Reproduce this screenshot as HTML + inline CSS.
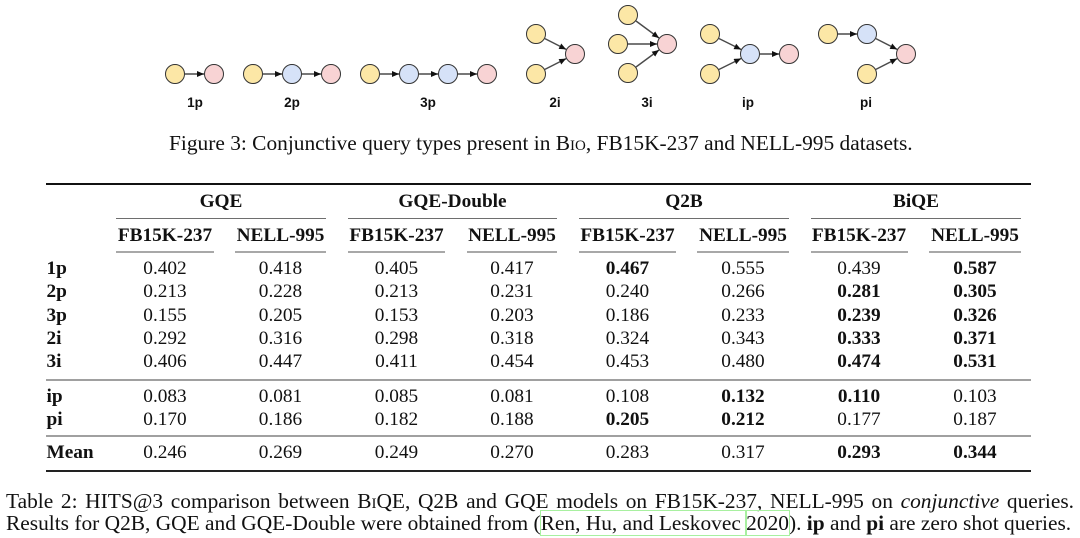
<!DOCTYPE html>
<html><head><meta charset="utf-8">
<style>
html,body{margin:0;padding:0;background:#fff;}
body{width:1080px;height:538px;position:relative;overflow:hidden;font-family:"Liberation Serif","Times New Roman",serif;color:#111;}
.row{position:absolute;left:0;width:1080px;height:20px;font-size:19.3px;line-height:19.3px;white-space:nowrap;}
.row span{position:absolute;top:0;}
.l{left:46.5px;font-weight:bold;}
.c{width:120px;text-align:center;}
.b{font-weight:bold;}
.c1{left:105px}.c2{left:220.5px}.c3{left:336.5px}.c4{left:452px}
.c5{left:567.5px}.c6{left:683px}.c7{left:799px}.c8{left:915px}
.g{width:200px;text-align:center;font-weight:bold;}
.rule{position:absolute;}
.cm{top:217.5px;height:1.2px;background:#6e6e6e;}
.sr{top:251px;height:2px;background:#a8a8a8;}
.cap{position:absolute;font-size:21.4px;line-height:22px;white-space:nowrap;color:#111;}
.sc{font-variant:small-caps;}
.lk{outline:1px solid #a8f0a0;}
</style></head><body>

<svg width="1080" height="120" style="position:absolute;left:0;top:0" xmlns="http://www.w3.org/2000/svg">
<defs>
<marker id="m" markerWidth="8" markerHeight="8" refX="7" refY="3" orient="auto" markerUnits="userSpaceOnUse"><path d="M0,0 L7,3 L0,6 z" fill="#111"/></marker>
</defs>
<g stroke="#4a4a4a" stroke-width="1.4" marker-end="url(#m)">
<line x1="185" y1="74" x2="204" y2="74"/>
<line x1="263" y1="74" x2="282" y2="74"/>
<line x1="302" y1="74" x2="321" y2="74"/>
<line x1="380" y1="74" x2="399" y2="74"/>
<line x1="419" y1="74" x2="438" y2="74"/>
<line x1="458" y1="74" x2="477" y2="74"/>
<line x1="544.9" y1="38.6" x2="566.1" y2="49.4"/>
<line x1="544.9" y1="69.4" x2="566.1" y2="58.6"/>
<line x1="636" y1="21" x2="659" y2="38"/>
<line x1="628" y1="44" x2="657" y2="44"/>
<line x1="636" y1="67" x2="659" y2="50"/>
<line x1="718.9" y1="38.5" x2="741.1" y2="49.5"/>
<line x1="718.9" y1="69.5" x2="741.1" y2="58.5"/>
<line x1="760" y1="54" x2="779" y2="54"/>
<line x1="838" y1="34" x2="857" y2="34"/>
<line x1="875.9" y1="38.6" x2="897.1" y2="49.4"/>
<line x1="875.9" y1="69.4" x2="897.1" y2="58.6"/>
</g>
<g stroke="#333" stroke-width="1">
<g fill="#fce7a6">
<circle cx="175" cy="74" r="9.5"/>
<circle cx="253" cy="74" r="9.5"/>
<circle cx="370" cy="74" r="9.5"/>
<circle cx="536" cy="34" r="9.5"/>
<circle cx="536" cy="74" r="9.5"/>
<circle cx="628" cy="15" r="9.5"/>
<circle cx="618" cy="44" r="9.5"/>
<circle cx="628" cy="73" r="9.5"/>
<circle cx="710" cy="34" r="9.5"/>
<circle cx="710" cy="74" r="9.5"/>
<circle cx="828" cy="34" r="9.5"/>
<circle cx="867" cy="74" r="9.5"/>
</g>
<g fill="#d6e2f8">
<circle cx="292" cy="74" r="9.5"/>
<circle cx="409" cy="74" r="9.5"/>
<circle cx="448" cy="74" r="9.5"/>
<circle cx="750" cy="54" r="9.5"/>
<circle cx="867" cy="34" r="9.5"/>
</g>
<g fill="#f8d3d4">
<circle cx="214" cy="74" r="9.5"/>
<circle cx="331" cy="74" r="9.5"/>
<circle cx="487" cy="74" r="9.5"/>
<circle cx="575" cy="54" r="9.5"/>
<circle cx="667" cy="44" r="9.5"/>
<circle cx="789" cy="54" r="9.5"/>
<circle cx="906" cy="54" r="9.5"/>
</g>
</g>
<g font-family="Liberation Sans, Arial, sans-serif" font-weight="bold" font-size="13.5" fill="#111" text-anchor="middle">
<text x="195" y="107">1p</text>
<text x="292" y="107">2p</text>
<text x="428" y="107">3p</text>
<text x="555" y="107">2i</text>
<text x="647" y="107">3i</text>
<text x="748" y="107">ip</text>
<text x="866" y="107">pi</text>
</g>
</svg>

<div class="cap" style="left:169px;top:131.8px;">Figure 3: Conjunctive query types present in <span class="sc">Bio</span>, FB15K-237 and NELL-995 datasets.</div>

<div class="rule" style="left:46px;top:183px;width:985px;height:2px;background:#111;"></div>
<div class="rule cm" style="left:116px;width:210px;"></div>
<div class="rule cm" style="left:348px;width:209px;"></div>
<div class="rule cm" style="left:579px;width:210px;"></div>
<div class="rule cm" style="left:811px;width:210px;"></div>
<div class="rule sr" style="left:116px;width:98px;"></div>
<div class="rule sr" style="left:235px;width:91px;"></div>
<div class="rule sr" style="left:348px;width:97px;"></div>
<div class="rule sr" style="left:467px;width:90px;"></div>
<div class="rule sr" style="left:579px;width:97px;"></div>
<div class="rule sr" style="left:697px;width:92px;"></div>
<div class="rule sr" style="left:811px;width:97px;"></div>
<div class="rule sr" style="left:929px;width:92px;"></div>
<div class="rule" style="left:46px;top:378.5px;width:985px;height:2px;background:#a0a0a0;"></div>
<div class="rule" style="left:46px;top:434.5px;width:985px;height:2px;background:#a0a0a0;"></div>
<div class="rule" style="left:46px;top:470px;width:985px;height:2px;background:#222;"></div>

<div class="row" style="top:192.3px">
<span class="g" style="left:121px">GQE</span>
<span class="g" style="left:352.5px">GQE-Double</span>
<span class="g" style="left:584px">Q2B</span>
<span class="g" style="left:816px">BiQE</span>
</div>
<div class="row b" style="top:226.3px">
<span class="c c1">FB15K-237</span><span class="c c2">NELL-995</span>
<span class="c c3">FB15K-237</span><span class="c c4">NELL-995</span>
<span class="c c5">FB15K-237</span><span class="c c6">NELL-995</span>
<span class="c c7">FB15K-237</span><span class="c c8">NELL-995</span>
</div>

<div class="row" style="top:259.3px"><span class="l">1p</span>
<span class="c c1">0.402</span><span class="c c2">0.418</span><span class="c c3">0.405</span><span class="c c4">0.417</span>
<span class="c c5 b">0.467</span><span class="c c6">0.555</span><span class="c c7">0.439</span><span class="c c8 b">0.587</span></div>
<div class="row" style="top:282.3px"><span class="l">2p</span>
<span class="c c1">0.213</span><span class="c c2">0.228</span><span class="c c3">0.213</span><span class="c c4">0.231</span>
<span class="c c5">0.240</span><span class="c c6">0.266</span><span class="c c7 b">0.281</span><span class="c c8 b">0.305</span></div>
<div class="row" style="top:305.8px"><span class="l">3p</span>
<span class="c c1">0.155</span><span class="c c2">0.205</span><span class="c c3">0.153</span><span class="c c4">0.203</span>
<span class="c c5">0.186</span><span class="c c6">0.233</span><span class="c c7 b">0.239</span><span class="c c8 b">0.326</span></div>
<div class="row" style="top:329.3px"><span class="l">2i</span>
<span class="c c1">0.292</span><span class="c c2">0.316</span><span class="c c3">0.298</span><span class="c c4">0.318</span>
<span class="c c5">0.324</span><span class="c c6">0.343</span><span class="c c7 b">0.333</span><span class="c c8 b">0.371</span></div>
<div class="row" style="top:352.3px"><span class="l">3i</span>
<span class="c c1">0.406</span><span class="c c2">0.447</span><span class="c c3">0.411</span><span class="c c4">0.454</span>
<span class="c c5">0.453</span><span class="c c6">0.480</span><span class="c c7 b">0.474</span><span class="c c8 b">0.531</span></div>
<div class="row" style="top:387.3px"><span class="l">ip</span>
<span class="c c1">0.083</span><span class="c c2">0.081</span><span class="c c3">0.085</span><span class="c c4">0.081</span>
<span class="c c5">0.108</span><span class="c c6 b">0.132</span><span class="c c7 b">0.110</span><span class="c c8">0.103</span></div>
<div class="row" style="top:409.8px"><span class="l">pi</span>
<span class="c c1">0.170</span><span class="c c2">0.186</span><span class="c c3">0.182</span><span class="c c4">0.188</span>
<span class="c c5 b">0.205</span><span class="c c6 b">0.212</span><span class="c c7">0.177</span><span class="c c8">0.187</span></div>
<div class="row" style="top:443.3px"><span class="l">Mean</span>
<span class="c c1">0.246</span><span class="c c2">0.269</span><span class="c c3">0.249</span><span class="c c4">0.270</span>
<span class="c c5">0.283</span><span class="c c6">0.317</span><span class="c c7 b">0.293</span><span class="c c8 b">0.344</span></div>

<div class="cap" style="left:6px;top:489.8px;width:1068px;text-align:justify;text-align-last:justify;">Table 2: HITS@3 comparison between <span class="sc">BiQE</span>, Q2B and GQE models on FB15K-237, NELL-995 on <i>conjunctive</i> queries.</div>
<div class="cap" style="left:6px;top:511.8px;">Results for Q2B, GQE and GQE-Double were obtained from (<span class="lk">Ren, Hu, and Leskovec </span><span class="lk">2020</span>). <b>ip</b> and <b>pi</b> are zero shot queries.</div>

</body></html>
